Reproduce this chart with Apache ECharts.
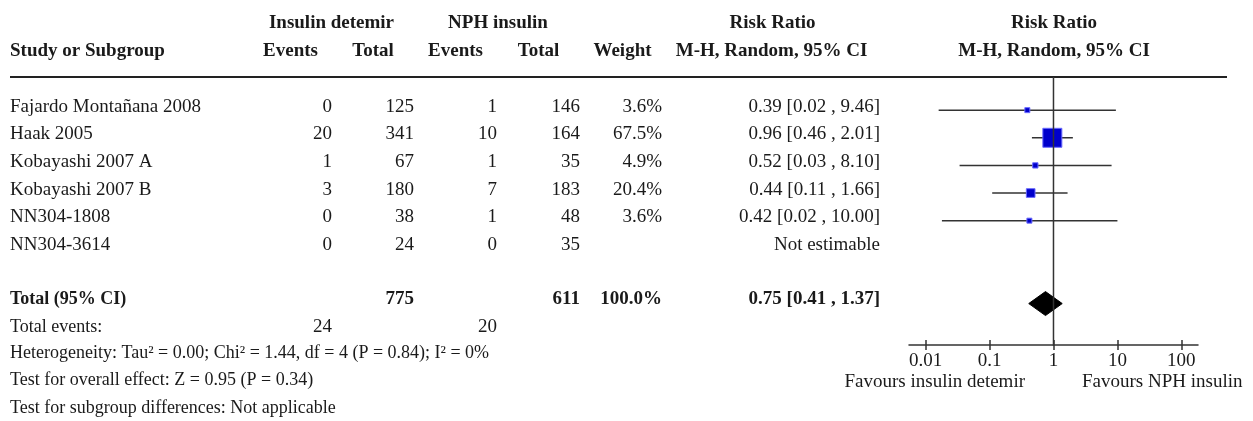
<!DOCTYPE html>
<html>
<head>
<meta charset="utf-8">
<script src="https://cdn.jsdelivr.net/npm/echarts@6/dist/echarts.min.js"></script>
<style>html,body{margin:0;padding:0;background:#fff;}#chart{width:1253px;height:421px;}</style>
</head>
<body>
<div id="chart"></div>
<script>
// ---- data ----
const studies = ['Fajardo Montañana 2008', 'Haak 2005', 'Kobayashi 2007 A', 'Kobayashi 2007 B', 'NN304-1808', 'NN304-3614'];
const detemirEvents = [0, 20, 1, 3, 0, 0];
const detemirTotal = [125, 341, 67, 180, 38, 24];
const nphEvents = [1, 10, 1, 7, 1, 0];
const nphTotal = [146, 164, 35, 183, 48, 35];
const weights = [3.6, 67.5, 4.9, 20.4, 3.6, null];
const riskRatio = [0.39, 0.96, 0.52, 0.44, 0.42, null];
const ciLow = [0.016, 0.46, 0.034, 0.11, 0.018, null];
const ciHigh = [9.46, 2.01, 8.10, 1.66, 10.00, null];
const pooled = { rr: 0.75, lo: 0.41, hi: 1.37, weight: '100.0%' };
const totalDetemir = 775, totalNph = 611;
const totalEventsDetemir = 24, totalEventsNph = 20;
const footerLines = [
  'Heterogeneity: Tau² = 0.00; Chi² = 1.44, df = 4 (P = 0.84); I² = 0%',
  'Test for overall effect: Z = 0.95 (P = 0.34)',
  'Test for subgroup differences: Not applicable'
];
const tickValues = [0.01, 0.1, 1, 10, 100];
const tickLabels = ['0.01', '0.1', '1', '10', '100'];
const favourLeft = 'Favours insulin detemir';
const favourRight = 'Favours NPH insulin';

// ---- layout / style ----
const FONT = '"Liberation Serif", "Times New Roman", serif';
const FS = 19;
const FS_SMALL = 18;
const TXT = '#1a1a1a';
const rowPix = i => 110.3 + 27.6 * i;
const TOTAL_ROW = 7;

function txt(text, x, y, align, bold, size) {
  return { type: 'text', x: x, y: y, silent: true,
    style: { text: String(text), fontFamily: FONT, fontSize: size || FS, fontWeight: bold ? 'bold' : 'normal',
      fill: TXT, align: align, verticalAlign: 'middle' } };
}
const fmtCI = (r, l, h) => r.toFixed(2) + ' [' + l.toFixed(2) + ' , ' + h.toFixed(2) + ']';

const graphics = [];
// headers
graphics.push(txt('Insulin detemir', 331.5, 22.7, 'center', true));
graphics.push(txt('NPH insulin', 498, 22.7, 'center', true));
graphics.push(txt('Risk Ratio', 772.5, 22.7, 'center', true));
graphics.push(txt('Risk Ratio', 1054, 22.7, 'center', true));
graphics.push(txt('Study or Subgroup', 10, 50.7, 'left', true));
graphics.push(txt('Events', 290.5, 50.7, 'center', true));
graphics.push(txt('Total', 373, 50.7, 'center', true));
graphics.push(txt('Events', 455.5, 50.7, 'center', true));
graphics.push(txt('Total', 538.5, 50.7, 'center', true));
graphics.push(txt('Weight', 622.5, 50.7, 'center', true));
graphics.push(txt('M-H, Random, 95% CI', 771.5, 50.7, 'center', true));
graphics.push(txt('M-H, Random, 95% CI', 1054, 50.7, 'center', true));
graphics.push({ type: 'line', silent: true, shape: { x1: 10, y1: 77, x2: 1227, y2: 77 },
  style: { stroke: '#222', lineWidth: 2 } });
// study rows
studies.forEach((s, i) => {
  const y = rowPix(i) - 3.5;
  graphics.push(txt(s, 10, y, 'left'));
  graphics.push(txt(detemirEvents[i], 332, y, 'right'));
  graphics.push(txt(detemirTotal[i], 414, y, 'right'));
  graphics.push(txt(nphEvents[i], 497, y, 'right'));
  graphics.push(txt(nphTotal[i], 580, y, 'right'));
  if (weights[i] != null) graphics.push(txt(weights[i].toFixed(1) + '%', 662, y, 'right'));
  graphics.push(txt(riskRatio[i] != null ? fmtCI(riskRatio[i], ciLow[i], ciHigh[i]) : 'Not estimable', 880, y, 'right'));
});
// total row
const yT = rowPix(TOTAL_ROW) - 4;
graphics.push(txt('Total (95% CI)', 10, yT, 'left', true, FS_SMALL));
graphics.push(txt(totalDetemir, 414, yT, 'right', true));
graphics.push(txt(totalNph, 580, yT, 'right', true));
graphics.push(txt(pooled.weight, 662, yT, 'right', true));
graphics.push(txt(fmtCI(pooled.rr, pooled.lo, pooled.hi), 880, yT, 'right', true));
graphics.push(txt('Total events:', 10, 326.8, 'left', false, FS_SMALL));
graphics.push(txt(totalEventsDetemir, 332, 326.8, 'right'));
graphics.push(txt(totalEventsNph, 497, 326.8, 'right'));
footerLines.forEach((t, k) => graphics.push(txt(t, 10, [353.5, 380.5, 408][k], 'left', false, FS_SMALL)));
graphics.push(txt(favourLeft, 1025, 382, 'right'));
graphics.push(txt(favourRight, 1082, 382, 'left'));

// series data
const studyData = [];
studies.forEach((s, i) => {
  if (riskRatio[i] != null) studyData.push([ciLow[i], ciHigh[i], riskRatio[i], i, weights[i]]);
});
const wMin = Math.min(...weights.filter(w => w != null));
const wMax = Math.max(...weights.filter(w => w != null));

const axisCommon = {
  type: 'log', logBase: 10, min: 0.0055, max: 182, gridIndex: 0, position: 'bottom',
  splitLine: { show: false }, minorTick: { show: false }
};

const chart = echarts.init(document.getElementById('chart'), null, { renderer: 'canvas' });
chart.setOption({
  animation: false,
  backgroundColor: '#fff',
  grid: { left: 909, width: 289, top: 77, height: 268 },
  xAxis: [
    Object.assign({}, axisCommon, {
      axisLine: { show: true, onZero: false, lineStyle: { color: '#333', width: 1.5 } },
      axisTick: { show: true, inside: true, length: 5, lineStyle: { color: '#333', width: 1.5 }, customValues: tickValues },
      axisLabel: { show: true, margin: 7, fontFamily: FONT, fontSize: FS, color: TXT, customValues: tickValues,
        formatter: v => tickLabels[tickValues.findIndex(t => Math.abs(Math.log10(t) - Math.log10(v)) < 1e-6)] || '' }
    }),
    Object.assign({}, axisCommon, {
      axisLine: { show: false, onZero: false },
      axisTick: { show: true, inside: false, length: 5, lineStyle: { color: '#333', width: 1.5 }, customValues: tickValues },
      axisLabel: { show: false }
    })
  ],
  yAxis: { type: 'value', inverse: true, min: -1.2, max: 8.5, show: false },
  graphic: graphics,
  series: [
    {
      type: 'custom', xAxisIndex: 0, z: 2,
      data: studyData,
      encode: { x: [0, 1, 2], y: 3 },
      renderItem: function (params, api) {
        const row = api.value(3);
        const lo = api.coord([api.value(0), row]);
        const hi = api.coord([api.value(1), row]);
        const c = api.coord([api.value(2), row]);
        const w = api.value(4);
        const s = 5 + 14 * (w - wMin) / (wMax - wMin);
        return { type: 'group', children: [
          { type: 'line', shape: { x1: lo[0], y1: lo[1], x2: hi[0], y2: hi[1] }, style: { stroke: '#333', lineWidth: 1.5 } },
          { type: 'rect', shape: { x: c[0] - s / 2, y: c[1] - s / 2, width: s, height: s },
            style: { fill: '#0000cc', stroke: '#6a6aff', lineWidth: 1 } }
        ] };
      }
    },
    {
      type: 'custom', xAxisIndex: 0, z: 2,
      data: [[pooled.lo, pooled.rr, pooled.hi, TOTAL_ROW]],
      encode: { x: [0, 1, 2], y: 3 },
      renderItem: function (params, api) {
        const row = api.value(3);
        const l = api.coord([api.value(0), row]);
        const m = api.coord([api.value(1), row]);
        const r = api.coord([api.value(2), row]);
        const h = 12;
        return { type: 'polygon', shape: { points: [[l[0], l[1]], [m[0], m[1] - h], [r[0], r[1]], [m[0], m[1] + h]] },
          style: { fill: '#000', stroke: '#000', lineWidth: 1 } };
      }
    },
    {
      type: 'line', xAxisIndex: 0, z: 5, symbol: 'none', silent: true,
      data: [[1, -1.2], [1, 8.7]],
      lineStyle: { color: '#333', width: 1.5 }
    }
  ]
});
</script>
</body>
</html>
